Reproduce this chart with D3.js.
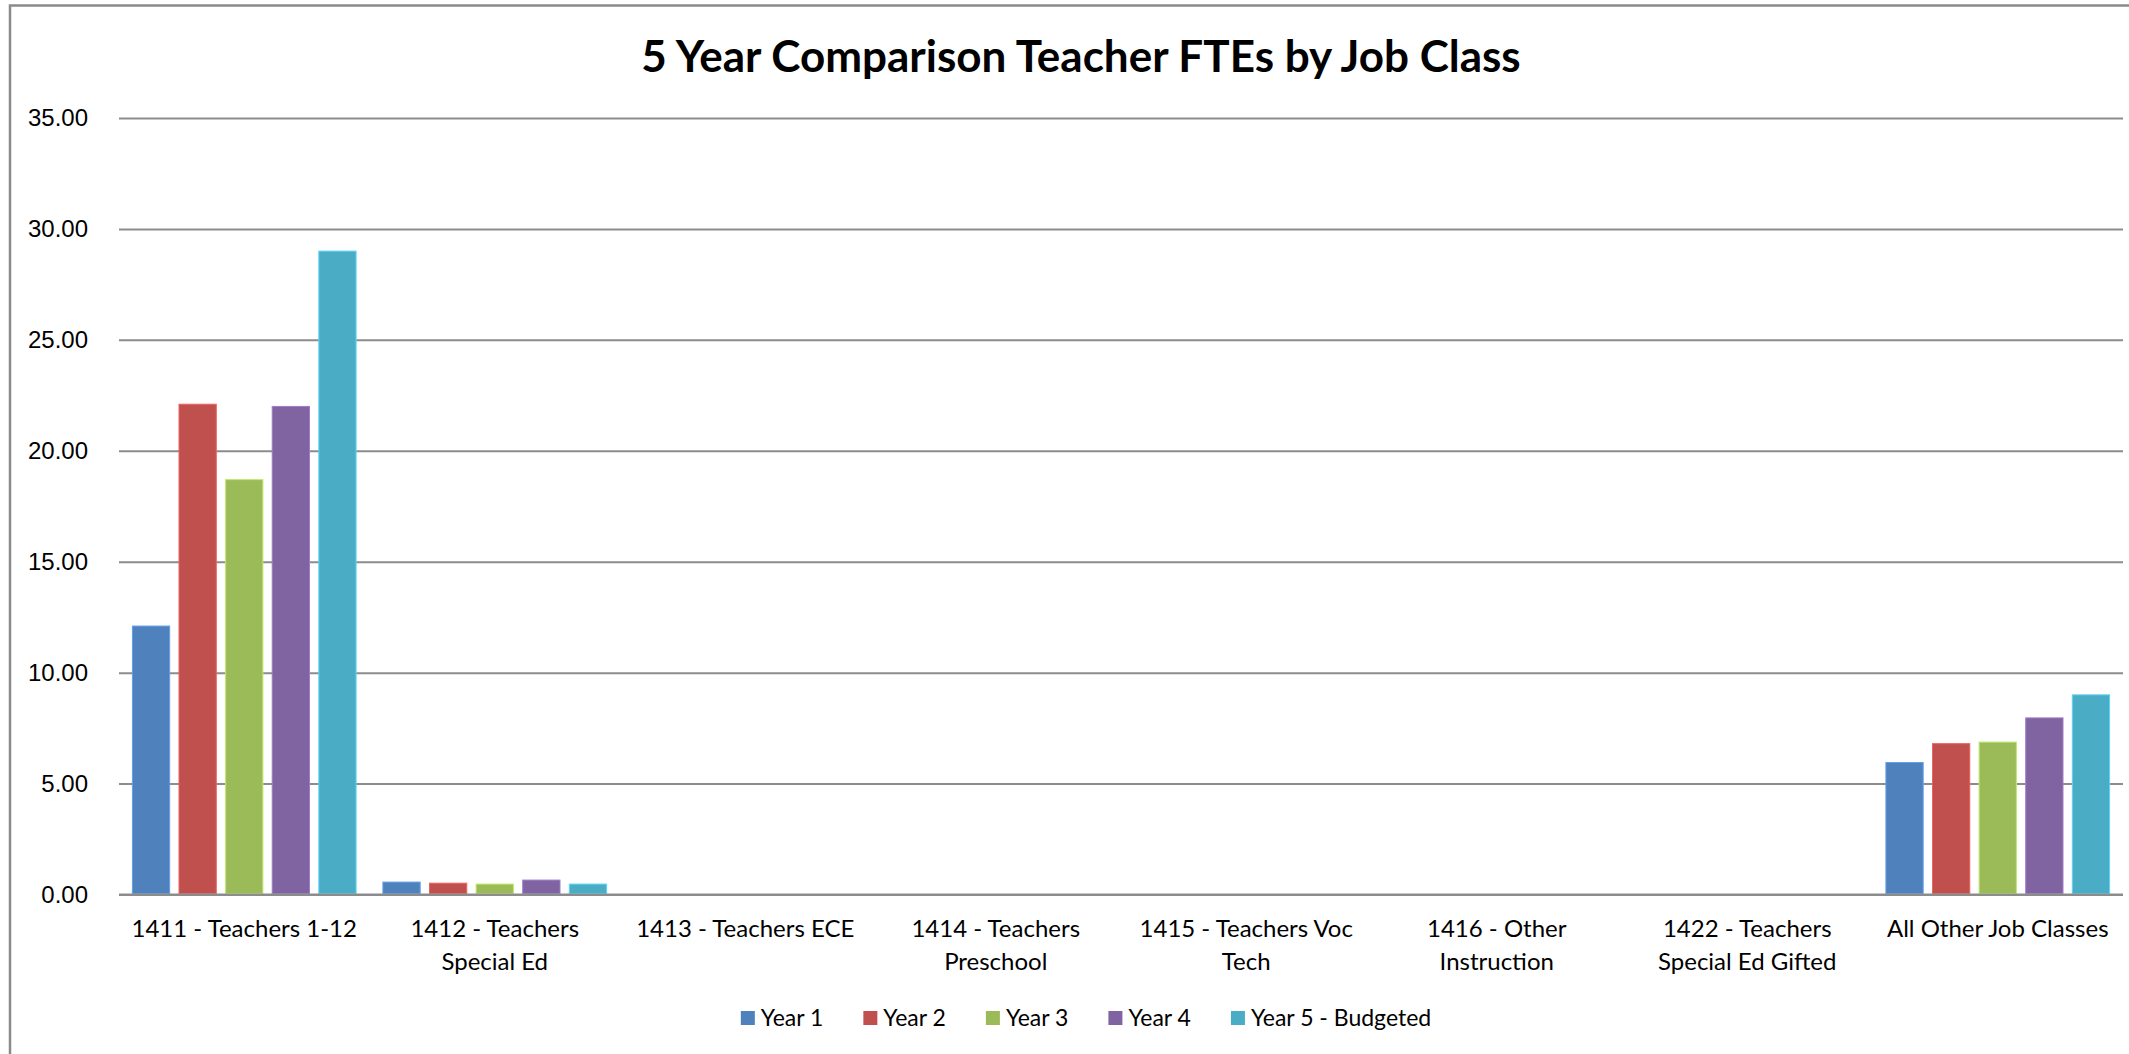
<!DOCTYPE html>
<html>
<head>
<meta charset="utf-8">
<script src="https://cdn.jsdelivr.net/npm/d3@7"></script>
<style>
  html, body { margin: 0; padding: 0; background: #fff; }
  svg { display: block; font-family: Lato, "Open Sans", sans-serif; }
</style>
</head>
<body>
<div class="chart"></div>
<script>
// 5 year comparison of teacher FTEs, grouped bars per job class

var w = 2129, h = 1054;

// data
var categories = [
  '1411 - Teachers 1-12',
  '1412 - Teachers\nSpecial Ed',
  '1413 - Teachers ECE',
  '1414 - Teachers\nPreschool',
  '1415 - Teachers Voc\nTech',
  '1416 - Other\nInstruction',
  '1422 - Teachers\nSpecial Ed Gifted',
  'All Other Job Classes'
]
var series = ['Year 1', 'Year 2', 'Year 3', 'Year 4', 'Year 5 - Budgeted']
var year1 = [12.10, 0.56, 0, 0, 0, 0, 0, 5.95]
var year2 = [22.10, 0.51, 0, 0, 0, 0, 0, 6.80]
var year3 = [18.70, 0.47, 0, 0, 0, 0, 0, 6.87]
var year4 = [22.00, 0.65, 0, 0, 0, 0, 0, 7.96]
var year5 = [29.00, 0.47, 0, 0, 0, 0, 0, 9.00]
var yTicks = [0, 5, 10, 15, 20, 25, 30, 35]
var colors = ['#4F81BD', '#C0504D', '#9BBB59', '#8064A2', '#4BACC6']

var values = [year1, year2, year3, year4, year5]

// plot box (window.top is reserved, so prefix these)
var plotL = 119, plotR = 2123, plotT = 118, plotB = 894.5

var svg = d3.select('.chart').append('svg')
  .attr('width', w)
  .attr('height', h)

// outer chart border (runs off the right and bottom edge)
svg.append('rect')
  .attr('x', 10).attr('y', 5.5)
  .attr('width', w + 20).attr('height', h + 20)
  .attr('fill', '#fff')
  .attr('stroke', '#8a8a8a')
  .attr('stroke-width', 2.5)

var x0 = d3.scaleBand()
  .domain(categories)
  .range([plotL, plotR])

var x1 = d3.scaleBand()
  .domain(series)
  .range([13.4, x0.bandwidth() - 13.4])
  .paddingInner(0.2)

var y = d3.scaleLinear()
  .domain([0, 35])
  .range([plotB, plotT])

var color = d3.scaleOrdinal().domain(series).range(colors)

// gridlines + y labels
var yAxis = svg.append('g')
  .attr('transform', 'translate(' + plotL + ',0)')
  .call(d3.axisLeft(y).tickValues(yTicks).tickFormat(d3.format('.2f'))
    .tickSize(-(plotR - plotL)).tickPadding(31))
yAxis.select('.domain').remove()
yAxis.selectAll('.tick line')
  .attr('stroke', '#8c8c8c')
  .attr('stroke-width', 2)
yAxis.selectAll('.tick text')
  .attr('fill', '#000')
  .style('font-size', '24px')

// bars
var groups = svg.append('g').selectAll('g')
    .data(categories)
  .enter().append('g')
    .attr('transform', function(d) { return 'translate(' + x0(d) + ',0)' })

groups.selectAll('rect')
    .data(function(d, i) {
      return series.map(function(s, j) { return { key: s, value: values[j][i] } })
    })
  .enter().filter(function(d) { return d.value > 0 }).append('rect')
    .attr('x', function(d) { return x1(d.key) })
    .attr('y', function(d) { return y(d.value) })
    .attr('width', x1.bandwidth())
    .attr('height', function(d) { return y(0) - y(d.value) - 1 })
    .attr('fill', function(d) { return color(d.key) })
    .attr('stroke', function(d) { return d3.color(color(d.key)).brighter(0.6) })
    .attr('stroke-width', 1)

// redraw the zero line on top
svg.append('line')
  .attr('x1', plotL).attr('x2', plotR)
  .attr('y1', y(0)).attr('y2', y(0))
  .attr('stroke', '#8c8c8c')
  .attr('stroke-width', 2)

// category labels, broken where Excel wrapped them
var xLabels = svg.append('g').selectAll('text')
    .data(categories)
  .enter().append('text')
    .attr('x', function(d) { return x0(d) + x0.bandwidth() / 2 })
    .attr('y', 937)
    .attr('text-anchor', 'middle')
    .style('font-size', '24px')
    .attr('fill', '#000')

xLabels.selectAll('tspan')
    .data(function(d) { return d.split('\n') })
  .enter().append('tspan')
    .attr('x', function() { return this.parentNode.getAttribute('x') })
    .attr('dy', function(d, i) { return i ? 33 : 0 })
    .text(function(d) { return d })

// title
svg.append('text')
  .attr('x', 1081)
  .attr('y', 72)
  .attr('text-anchor', 'middle')
  .style('font-size', '44px')
  .style('font-weight', 'bold')
  .text('5 Year Comparison Teacher FTEs by Job Class')

// legend
var legend = svg.append('g')
var lx = 0, gap = 40
series.forEach(function(s) {
  var item = legend.append('g').attr('transform', 'translate(' + lx + ',0)')
  item.append('rect')
    .attr('x', 0).attr('y', 1011)
    .attr('width', 14).attr('height', 14)
    .attr('fill', color(s))
  var t = item.append('text')
    .attr('x', 20).attr('y', 1026)
    .style('font-size', '23px')
    .text(s)
  lx += 20 + t.node().getComputedTextLength() + gap
})
var legendW = lx - gap
legend.attr('transform', 'translate(' + (1086 - legendW / 2) + ',0)')
</script>
</body>
</html>
